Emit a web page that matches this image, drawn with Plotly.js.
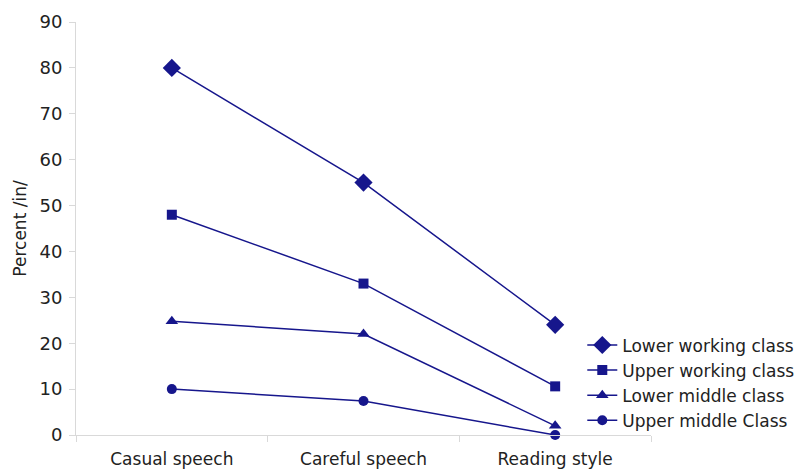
<!DOCTYPE html>
<html>
<head>
<meta charset="utf-8">
<script src="https://cdn.plot.ly/plotly-3.0.1.min.js"></script>
<style>html,body{margin:0;padding:0;background:#fff;}#chart{width:796px;height:470px;}</style>
</head>
<body>
<div id="chart"></div>
<script>
const categories = ["Casual speech", "Careful speech", "Reading style"];
const seriesNames = ["Lower working class", "Upper working class", "Lower middle class", "Upper middle Class"];
const lowerWorking = [80, 55, 24];
const upperWorking = [48, 33, 10.6];
const lowerMiddle = [24.8, 22, 2];
const upperMiddle = [10, 7.4, 0];
const yTicks = [0, 10, 20, 30, 40, 50, 60, 70, 80, 90];

const color = "#16168c";
const symbols = ["diamond", "square", "triangle-up", "circle"];
const sizes = [14, 10, 11, 10];
const values = [lowerWorking, upperWorking, lowerMiddle, upperMiddle];

const traces = values.map((v, i) => ({
  type: "scatter",
  mode: "lines+markers",
  name: seriesNames[i],
  x: categories,
  y: v,
  line: {color: color, width: 1.5},
  marker: {color: color, symbol: symbols[i], size: sizes[i]},
  cliponaxis: false
}));

const layout = {
  width: 796,
  height: 470,
  margin: {l: 76, r: 145, t: 22, b: 35, autoexpand: false},
  paper_bgcolor: "#ffffff",
  plot_bgcolor: "#ffffff",
  font: {family: "DejaVu Sans, sans-serif", size: 17, color: "#222222"},
  showlegend: true,
  legend: {
    x: 0.8805, xanchor: "left",
    y: 0.126, yanchor: "middle",
    font: {size: 17, color: "#222222"},
    bgcolor: "rgba(0,0,0,0)",
    itemwidth: 30
  },
  xaxis: {
    type: "category",
    range: [-0.5, 2.5],
    showline: true,
    linecolor: "#d9d9d9",
    linewidth: 1,
    ticks: "outside",
    tickson: "boundaries",
    ticklen: 6,
    tickcolor: "#d9d9d9",
    ticklabelstandoff: 9,
    showgrid: false,
    zeroline: false,
    automargin: false,
    tickfont: {size: 17, color: "#222222"}
  },
  yaxis: {
    range: [0, 90],
    tickvals: yTicks,
    ticktext: yTicks.map(String),
    showline: true,
    linecolor: "#d9d9d9",
    linewidth: 1,
    ticks: "outside",
    ticklen: 6,
    tickcolor: "#d9d9d9",
    ticklabelstandoff: 3,
    showgrid: false,
    zeroline: false,
    automargin: false,
    tickfont: {size: 18, color: "#222222"},
    title: {text: "Percent /in/", font: {size: 17, color: "#222222"}, standoff: 8}
  }
};

Plotly.newPlot("chart", traces, layout, {displayModeBar: false, staticPlot: true});
</script>
</body>
</html>
